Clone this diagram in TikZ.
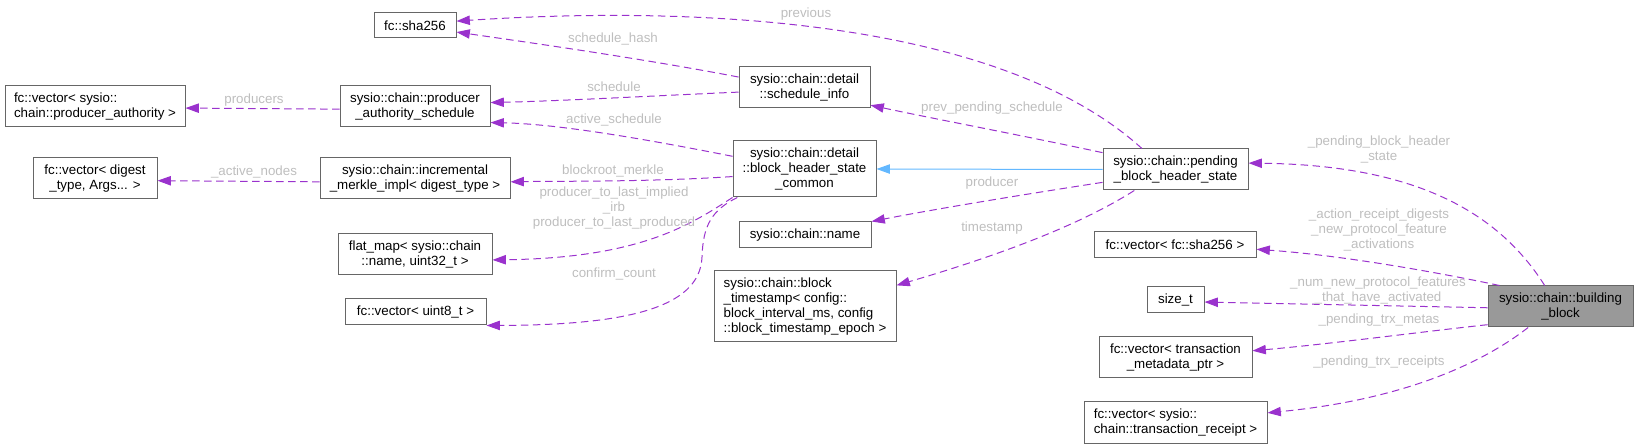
\documentclass[tikz,border=0pt]{standalone}
\usepackage{fontspec}
\setmainfont{Liberation Sans}
\usetikzlibrary{arrows.meta}

\definecolor{edgepurple}{HTML}{9A32CD}
\definecolor{edgeblue}{HTML}{63B8FF}
\definecolor{boxgrey}{HTML}{666666}
\definecolor{labelgrey}{HTML}{BEBEBE}
\definecolor{curfill}{HTML}{999999}

\tikzset{
    cls/.style={draw=boxgrey, line width=0.75pt, inner sep=0pt, align=center,
        font=\fontsize{10}{11.25}\selectfont},
    clsleft/.style={cls, align=left},
    cur/.style={cls, fill=curfill},
    lbl/.style={text=labelgrey, inner sep=0pt, align=center,
        font=\fontsize{10}{11.25}\selectfont},
    member/.style={draw=edgepurple, line width=0.75pt, dash pattern=on 5.6pt off 3.4pt,
        -{Triangle[length=10pt,width=7pt]}},
    inherit/.style={draw=edgeblue, line width=0.75pt, -{Triangle[length=10pt,width=7pt]}},
}

\begin{document}
\begin{tikzpicture}[x=0.75pt, y=-0.75pt]
    \useasboundingbox (0,0) rectangle (1637,448);

    \node[cls, minimum width=61.5pt, minimum height=18.75pt] (sha) at (415, 25.5) {fc::sha256};
    \node[clsleft, minimum width=135pt, minimum height=30.75pt] (vecpa) at (95, 106.5) {fc::vector< sysio::\\chain::producer\_authority >};
    \node[cls, minimum width=112.5pt, minimum height=30.75pt] (pas) at (415, 106.5) {sysio::chain::producer\\\_authority\_schedule};
    \node[cls, minimum width=93pt, minimum height=30.75pt] (vecdigest) at (95, 178.5) {fc::vector< digest\\\_type, Args... >};
    \node[cls, minimum width=142.5pt, minimum height=30.75pt] (merkle) at (415, 178.5) {sysio::chain::incremental\\\_merkle\_impl< digest\_type >};
    \node[cls, minimum width=115.5pt, minimum height=30.75pt] (flatmap) at (415, 254.5) {flat\_map< sysio::chain\\::name, uint32\_t >};
    \node[cls, minimum width=105.75pt, minimum height=19.5pt] (vecu8) at (415.5, 312) {fc::vector< uint8\_t >};

    \node[cls, minimum width=98.25pt, minimum height=30.75pt] (schedinfo) at (804.5, 87.5) {sysio::chain::detail\\::schedule\_info};
    \node[cls, minimum width=107.25pt, minimum height=42pt] (bhsc) at (804.5, 169) {sysio::chain::detail\\::block\_header\_state\\\_common};
    \node[cls, minimum width=99pt, minimum height=19.5pt] (name) at (805, 235) {sysio::chain::name};
    \node[clsleft, minimum width=136.5pt, minimum height=53.25pt] (stamp) at (805, 306.5) {sysio::chain::block\\\_timestamp< config::\\block\_interval\_ms, config\\::block\_timestamp\_epoch >};

    \node[cls, minimum width=108.75pt, minimum height=30.75pt] (pbhs) at (1175.5, 169.5) {sysio::chain::pending\\\_block\_header\_state};
    \node[cls, minimum width=121.5pt, minimum height=19.5pt] (vecsha) at (1175, 245) {fc::vector< fc::sha256 >};
    \node[cls, minimum width=42.75pt, minimum height=19.5pt] (sizet) at (1175.5, 300) {size\_t};
    \node[cls, minimum width=114.75pt, minimum height=30.75pt] (vectmp) at (1175.5, 357.5) {fc::vector< transaction\\\_metadata\_ptr >};
    \node[clsleft, minimum width=137.25pt, minimum height=30.75pt] (vectr) at (1175.5, 422.5) {fc::vector< sysio::\\chain::transaction\_receipt >};

    \node[cur, minimum width=108.75pt, minimum height=30.75pt] (bb) at (1560.5, 306.5) {sysio::chain::building\\\_block};

    \draw[member] (pbhs.148) .. controls (1000,20) and (700,5) .. (sha.6);
    \draw[member] (schedinfo.171) .. controls (650,60) and (540,44) .. (sha.-9);
    \draw[member] (schedinfo.184) .. controls (650,96) and (560,101) .. (pas.3);
    \draw[member] (bhsc.170) .. controls (650,140) and (560,124) .. (pas.-12);
    \draw[member] (pas.182) -- (vecpa.-1);
    \draw[member] (merkle.182) -- (vecdigest.-2);
    \draw[member] (bhsc.186) .. controls (650,182) and (560,181) .. (merkle.-2);
    \draw[member] (bhsc.south west) .. controls (690,225) and (640,258) .. (flatmap.-4);
    \draw[member] (bhsc.203) .. controls (712,210) and (703,225) .. (702,257)
        .. controls (700,310) and (620,325) .. (vecu8.south east);
    \draw[member] (pbhs.167) .. controls (1020,135) and (930,118) .. (schedinfo.-15);
    \draw[inherit] (pbhs.west) -- (bhsc.east);
    \draw[member] (pbhs.190) .. controls (1020,195) and (930,210) .. (name.north east);
    \draw[member] (pbhs.207) .. controls (1080,225) and (1000,255) .. (stamp.13);

    \draw[member] (bb.127) .. controls (1500,215) and (1420,165) .. (pbhs.5);
    \draw[member] (bb.161) .. controls (1450,275) and (1350,256) .. (vecsha.-3);
    \draw[member] (bb.181) -- (sizet.-4);
    \draw[member] (bb.194) .. controls (1420,332) and (1330,344) .. (vectmp.5);
    \draw[member] (bb.213) .. controls (1480,365) and (1400,400) .. (vectr.6);

    \node[lbl] (lprevious) at (806, 14) {previous};
    \node[lbl] (lschedhash) at (613, 39) {schedule\_hash};
    \node[lbl] (lsched) at (614, 87) {schedule};
    \node[lbl] (lactsched) at (614, 120) {active\_schedule};
    \node[lbl] (lproducers) at (254, 100) {producers};
    \node[lbl] (lactnodes) at (254, 172) {\_active\_nodes};
    \node[lbl] (lmerkle) at (613, 171) {blockroot\_merkle};
    \node[lbl] (llast) at (614, 208) {producer\_to\_last\_implied\\\_irb\\producer\_to\_last\_produced};
    \node[lbl] (lconfirm) at (614, 274) {confirm\_count};
    \node[lbl] (lprevpend) at (992, 108) {prev\_pending\_schedule};
    \node[lbl] (lproducer) at (992, 183) {producer};
    \node[lbl] (ltimestamp) at (992, 228) {timestamp};
    \node[lbl] (lpbhs) at (1379, 149.5) {\_pending\_block\_header\\\_state};
    \node[lbl] (ldigests) at (1379, 230) {\_action\_receipt\_digests\\\_new\_protocol\_feature\\\_activations};
    \node[lbl] (lnumnew) at (1378, 290.5) {\_num\_new\_protocol\_features\\\_that\_have\_activated};
    \node[lbl] (lmetas) at (1379, 320) {\_pending\_trx\_metas};
    \node[lbl] (lreceipts) at (1379, 362) {\_pending\_trx\_receipts};
\end{tikzpicture}
\end{document}
